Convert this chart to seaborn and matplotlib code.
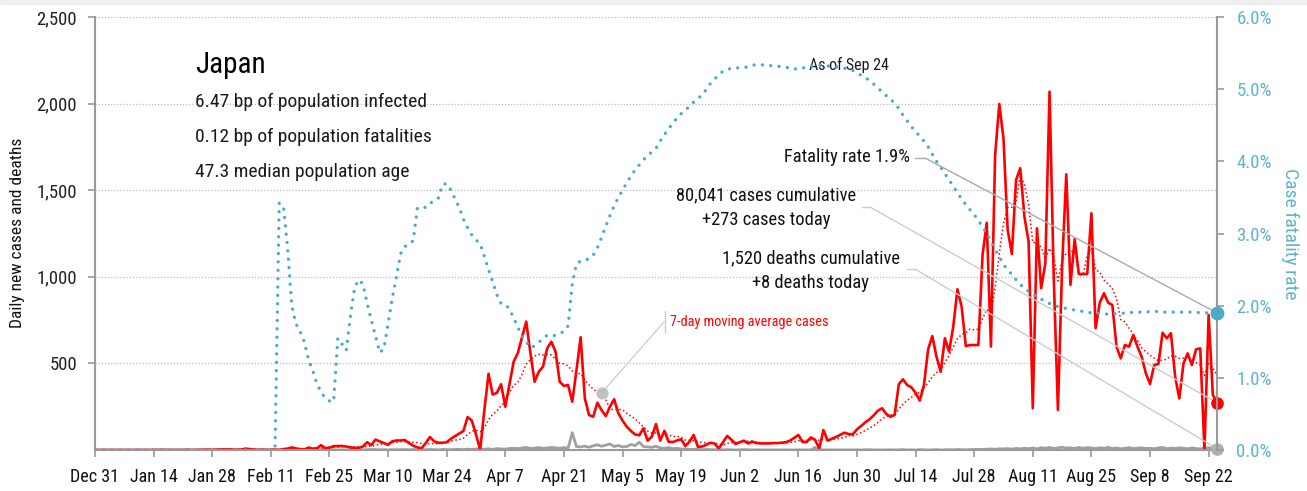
import numpy as np
import pandas as pd
import seaborn as sns
import matplotlib.pyplot as plt
from matplotlib import font_manager
from matplotlib.patches import Rectangle

# daily values, Dec 31 2019 .. Sep 24 2020 (one value per day)
cases = [
    0, 0, 0, 0, 0, 0, 0, 0, 0, 0,
    0, 0, 0, 0, 0, 0, 1, 0, 0, 0,
    0, 0, 1, 0, 0, 1, 1, 2, 1, 2,
    4, 3, 5, 2, 1, 3, 8, 5, 3, 0,
    2, 0, 1, 2, 0, 5, 8, 15, 9, 5,
    3, 14, 8, 10, 28, 10, 14, 22, 23, 23,
    20, 15, 12, 12, 20, 45, 28, 60, 50, 40,
    30, 50, 55, 55, 58, 40, 25, 15, 10, 40,
    75, 50, 42, 42, 45, 65, 80, 95, 110, 190,
    170, 90, 0, 230, 440, 320, 330, 380, 250, 380,
    510, 560, 650, 741, 560, 394, 452, 481, 587, 625,
    568, 394, 370, 375, 279, 460, 651, 298, 202, 192,
    273, 230, 196, 250, 293, 212, 170, 135, 110, 90,
    85, 125, 54, 77, 150, 54, 111, 48, 46, 55,
    62, 23, 48, 87, 19, 20, 30, 42, 37, 8,
    45, 81, 60, 35, 45, 54, 38, 48, 40, 38,
    38, 38, 40, 40, 42, 45, 54, 70, 87, 46,
    46, 73, 58, 10, 115, 54, 65, 75, 87, 100,
    92, 90, 119, 139, 160, 177, 200, 227, 241, 208,
    192, 202, 380, 408, 375, 362, 330, 285, 375, 581,
    658, 539, 452, 645, 568, 712, 928, 828, 600, 606,
    606, 606, 1126, 1312, 597, 1703, 1998, 1800, 1270, 1132,
    1559, 1627, 1347, 1203, 241, 1280, 934, 1078, 2069, 1000,
    231, 1059, 1592, 953, 1217, 1016, 1016, 1016, 1367, 703,
    851, 905, 851, 837, 597, 529, 606, 597, 664, 597,
    539, 443, 381, 491, 497, 677, 645, 674, 423, 298,
    500, 558, 491, 581, 587, 0, 779, 318, 273,
]

deaths = [
    0, 0, 0, 0, 0, 0, 0, 0, 0, 0,
    0, 0, 0, 0, 0, 0, 0, 0, 0, 0,
    0, 0, 0, 0, 0, 0, 0, 0, 0, 0,
    0, 0, 0, 0, 0, 0, 0, 0, 0, 0,
    0, 0, 0, 0, 1, 0, 0, 0, 0, 1,
    0, 0, 1, 1, 0, 1, 1, 2, 0, 1,
    1, 2, 1, 0, 1, 2, 3, 2, 1, 2,
    1, 2, 1, 2, 2, 1, 3, 2, 1, 2,
    3, 2, 1, 3, 2, 2, 3, 4, 2, 5,
    3, 6, 5, 4, 7, 3, 8, 6, 5, 9,
    10, 8, 12, 15, 9, 11, 14, 10, 12, 15,
    13, 10, 14, 11, 100, 20, 18, 22, 16, 24,
    30, 22, 28, 35, 20, 26, 18, 20, 32, 25,
    45, 20, 18, 15, 22, 12, 10, 14, 8, 10,
    6, 5, 4, 3, 5, 2, 3, 2, 1, 2,
    1, 2, 1, 0, 1, 2, 1, 0, 1, 1,
    0, 1, 0, 1, 0, 1, 0, 0, 1, 0,
    1, 0, 15, 0, 1, 0, 1, 0, 1, 0,
    1, 0, 1, 0, 1, 2, 0, 1, 0, 1,
    1, 0, 1, 2, 0, 1, 0, 2, 1, 0,
    1, 2, 0, 1, 2, 1, 3, 2, 1, 2,
    3, 4, 3, 5, 6, 4, 7, 6, 8, 5,
    9, 7, 10, 8, 12, 6, 14, 10, 15, 9,
    12, 16, 11, 13, 9, 15, 10, 14, 12, 8,
    13, 11, 15, 9, 12, 7, 10, 14, 8, 11,
    13, 9, 10, 7, 12, 15, 8, 11, 9, 13,
    10, 7, 12, 8, 6, 11, 14, 9, 8,
]

# case fatality rate, percent
cfr = [
    0, 0, 0, 0, 0, 0, 0, 0, 0, 0,
    0, 0, 0, 0, 0, 0, 0, 0, 0, 0,
    0, 0, 0, 0, 0, 0, 0, 0, 0, 0,
    0, 0, 0, 0, 0, 0, 0, 0, 0, 0,
    0, 0, 0, 0, 3.42, 3.38, 2.80, 2.00, 1.75, 1.64,
    1.50, 1.25, 1.10, 0.92, 0.80, 0.72, 0.68, 0.67, 1.55, 1.47,
    1.38, 1.85, 2.25, 2.36, 2.30, 2.03, 1.80, 1.58, 1.35, 1.40,
    1.75, 2.10, 2.40, 2.72, 2.82, 2.85, 2.90, 3.35, 3.37, 3.36,
    3.42, 3.45, 3.49, 3.68, 3.69, 3.60, 3.48, 3.36, 3.20, 3.08,
    2.98, 2.91, 2.86, 2.68, 2.50, 2.33, 2.15, 2.03, 2.02, 1.95,
    1.83, 1.70, 1.58, 1.50, 1.42, 1.44, 1.49, 1.55, 1.59, 1.58,
    1.59, 1.62, 1.64, 1.72, 2.30, 2.58, 2.62, 2.63, 2.65, 2.70,
    2.80, 2.95, 3.10, 3.25, 3.38, 3.50, 3.60, 3.70, 3.80, 3.88,
    3.95, 4.02, 4.08, 4.13, 4.18, 4.28, 4.37, 4.45, 4.53, 4.60,
    4.66, 4.71, 4.76, 4.82, 4.86, 4.93, 4.99, 5.08, 5.14, 5.20,
    5.25, 5.27, 5.29, 5.29, 5.30, 5.30, 5.31, 5.33, 5.34, 5.34,
    5.33, 5.33, 5.32, 5.32, 5.31, 5.30, 5.30, 5.28, 5.28, 5.29,
    5.31, 5.32, 5.33, 5.33, 5.33, 5.32, 5.32, 5.31, 5.30, 5.29,
    5.28, 5.26, 5.23, 5.19, 5.16, 5.12, 5.07, 5.02, 4.96, 4.91,
    4.86, 4.81, 4.73, 4.64, 4.56, 4.48, 4.41, 4.35, 4.28, 4.20,
    4.10, 4.00, 3.92, 3.83, 3.74, 3.66, 3.56, 3.48, 3.40, 3.33,
    3.26, 3.18, 3.09, 3.00, 2.89, 2.78, 2.68, 2.57, 2.50, 2.43,
    2.36, 2.30, 2.23, 2.20, 2.16, 2.12, 2.09, 2.06, 2.03, 2.00,
    1.99, 1.98, 1.96, 1.95, 1.94, 1.93, 1.92, 1.91, 1.90, 1.90,
    1.89, 1.89, 1.88, 1.88, 1.89, 1.89, 1.90, 1.90, 1.91, 1.91,
    1.91, 1.91, 1.92, 1.92, 1.92, 1.91, 1.91, 1.91, 1.91, 1.91,
    1.91, 1.91, 1.91, 1.91, 1.90, 1.90, 1.90, 1.90, 1.90,
]

country = 'Japan'
stats = ['6.47 bp of population infected',
         '0.12 bp of population fatalities',
         '47.3 median population age']
as_of = 'As of Sep 24'
fatality_txt = 'Fatality rate 1.9%'
cases_txt = ['80,041 cases cumulative', '+273 cases today']
deaths_txt = ['1,520 deaths cumulative', '+8 deaths today']
ma_label = '7-day moving average cases'
ma_point = 121  # day where the moving-average callout touches the line

RED = '#ff0000'
TEAL = '#4aabc8'
TEAL_TXT = '#5fb3cb'
GREY = '#a0a0a0'

sns.set_style('white')

# the original uses a condensed grotesque; take a narrow face if one is installed
installed = {(f.name, f.stretch) for f in font_manager.fontManager.ttflist}
names = {n for n, _ in installed}
font, stretch = 'Roboto', 'normal'
for cand in ['Roboto Condensed', 'Liberation Sans Narrow', 'Open Sans Condensed',
             'Noto Sans Condensed']:
    if cand in names:
        font = cand
        break
else:
    for n, s in installed:
        if n in ('DejaVu Sans', 'Noto Sans', 'Open Sans', 'Roboto') and s in (
                'condensed', 'semi-condensed', 'extra-condensed'):
            font, stretch = n, s
            break
plt.rcParams['font.family'] = [font, 'DejaVu Sans']
plt.rcParams['font.stretch'] = stretch

dates = pd.date_range('2019-12-31', periods=len(cases), freq='D')
df = pd.DataFrame({'date': dates, 'cases': cases, 'deaths': deaths, 'cfr': cfr})
df['ma'] = df['cases'].rolling(7, min_periods=1).mean()

W, H = 1307, 491
L, R, T, B = 95, 1217, 17, 450
fig = plt.figure(figsize=(W / 100, H / 100), dpi=100)
fig.patches.append(Rectangle((0, 1 - 4 / H), 1, 4 / H, transform=fig.transFigure,
                             color='#efefef', zorder=0))
ax = fig.add_axes([L / W, 1 - B / H, (R - L) / W, (B - T) / H])
ax2 = ax.twinx()


def fx(px):
    return (px - L) / (R - L)


def fy(py):
    return (B - py) / (B - T)


sns.lineplot(data=df, x='date', y='deaths', ax=ax, color=GREY, lw=2)
sns.lineplot(data=df, x='date', y='ma', ax=ax, color=RED, lw=1.1, linestyle=(0, (1, 1.6)))
sns.lineplot(data=df, x='date', y='cases', ax=ax, color=RED, lw=1.9)
sns.lineplot(data=df, x='date', y='cfr', ax=ax2, color=TEAL, lw=2.4,
             linestyle=(0, (0.01, 2.5)), dash_capstyle='round')

last = df.iloc[-1]
ax2.scatter([last['date']], [last['cfr']], s=80, color=TEAL, zorder=6, clip_on=False)
ax.scatter([last['date']], [last['cases']], s=65, color=RED, zorder=6, clip_on=False)
ax.scatter([last['date']], [last['deaths']], s=65, color='#b0b0b0', zorder=6, clip_on=False)

ax.set_xlim(dates[0], dates[-1])
ax.set_ylim(0, 2500)
ax2.set_ylim(0, 6)

tick_dates = dates[::14]
ax.set_xticks(tick_dates)
ax.set_xticklabels([f'{d:%b} {d.day}' for d in tick_dates])
ax.set_yticks([500, 1000, 1500, 2000, 2500])
ax.set_yticklabels([f'{v:,}' for v in [500, 1000, 1500, 2000, 2500]])
ax2.set_yticks(range(7))
ax2.set_yticklabels([f'{v:.1f}%' for v in range(7)])

ax.yaxis.grid(True, color='#bdbdbd', linestyle=(0, (1, 1.5)), lw=0.9)
ax.xaxis.grid(False)
ax.set_xlabel('')
ax.set_ylabel('')
ax2.set_ylabel('')

for a in (ax, ax2):
    for s in a.spines.values():
        s.set_visible(False)
ax.spines['left'].set_visible(True)
ax.spines['bottom'].set_visible(True)
ax2.spines['right'].set_visible(True)
for s in (ax.spines['left'], ax.spines['bottom'], ax2.spines['right']):
    s.set_color('#9a9a9a')
    s.set_linewidth(1.5)

ax.tick_params(axis='y', length=5, width=1.2, color='#9a9a9a', labelsize=13.5,
               labelcolor='#222222', pad=8, left=True)
ax.tick_params(axis='x', length=5, width=1.2, color='#9a9a9a', labelsize=13,
               labelcolor='#111111', pad=8, bottom=True)
ax2.tick_params(axis='y', length=5, width=1.2, color='#9a9a9a', labelsize=13.5,
                labelcolor=TEAL_TXT, pad=9, right=True)

fig.text(18 / W, 1 - 233 / H, 'Daily new cases and deaths', rotation=90,
         ha='center', va='center', fontsize=12.5, color='#111111')
fig.text(1290 / W, 1 - 234 / H, 'Case fatality rate', rotation=270,
         ha='center', va='center', fontsize=14, color=TEAL_TXT)

# headline block
ax.text(fx(195), fy(73), country, transform=ax.transAxes, fontsize=21,
        va='baseline', color='#000000')
for i, s in enumerate(stats):
    ax.text(fx(195), fy(107 + 35 * i), s, transform=ax.transAxes, fontsize=14,
            va='baseline', color='#1a1a1a')
ax.text(fx(809), fy(65), as_of, transform=ax.transAxes, fontsize=11.5,
        va='center', color='#1a1a1a')

# callouts to the last values
ax.text(fx(910), fy(157), fatality_txt, transform=ax.transAxes, fontsize=13.3,
        ha='right', va='center', color='#111111')
ax.plot([fx(915), fx(925)], [fy(158), fy(158)], transform=ax.transAxes,
        color='#aaaaaa', lw=1, clip_on=False)
ax2.annotate('', xy=(last['date'], last['cfr']), xycoords='data',
             xytext=(fx(925), fy(158)), textcoords='axes fraction',
             arrowprops=dict(arrowstyle='-', color='#aaaaaa', lw=1, shrinkA=0, shrinkB=0))

for i, s in enumerate(cases_txt):
    ax.text(fx(766), fy(195 + 25 * i), s, transform=ax.transAxes, fontsize=13.3,
            ha='center', va='center', color='#111111')
ax.plot([fx(862), fx(870)], [fy(207), fy(207)], transform=ax.transAxes,
        color='#cccccc', lw=1, clip_on=False)
ax.annotate('', xy=(last['date'], last['cases']), xycoords='data',
            xytext=(fx(870), fy(207)), textcoords='axes fraction',
            arrowprops=dict(arrowstyle='-', color='#cccccc', lw=1, shrinkA=0, shrinkB=0))

for i, s in enumerate(deaths_txt):
    ax.text(fx(811), fy(258 + 25 * i), s, transform=ax.transAxes, fontsize=13.3,
            ha='center', va='center', color='#111111')
ax.plot([fx(907), fx(915)], [fy(269), fy(269)], transform=ax.transAxes,
        color='#cccccc', lw=1, clip_on=False)
ax.annotate('', xy=(last['date'], last['deaths']), xycoords='data',
            xytext=(fx(915), fy(269)), textcoords='axes fraction',
            arrowprops=dict(arrowstyle='-', color='#cccccc', lw=1, shrinkA=0, shrinkB=0))

# moving average label
ma_row = df.iloc[ma_point]
ax.scatter([ma_row['date']], [ma_row['ma']], s=60, color='#c0c0c0', zorder=6)
ax.annotate('', xy=(ma_row['date'], ma_row['ma']), xycoords='data',
            xytext=(fx(664), fy(322)), textcoords='axes fraction',
            arrowprops=dict(arrowstyle='-', color='#cccccc', lw=0.9, shrinkA=0, shrinkB=0))
ax.plot([fx(665), fx(665)], [fy(311), fy(333)], transform=ax.transAxes,
        color='#cccccc', lw=1)
ax.text(fx(670), fy(322), ma_label, transform=ax.transAxes, fontsize=10.3,
        ha='left', va='center', color=RED)

plt.savefig('out.png', dpi=100)
plt.close()
